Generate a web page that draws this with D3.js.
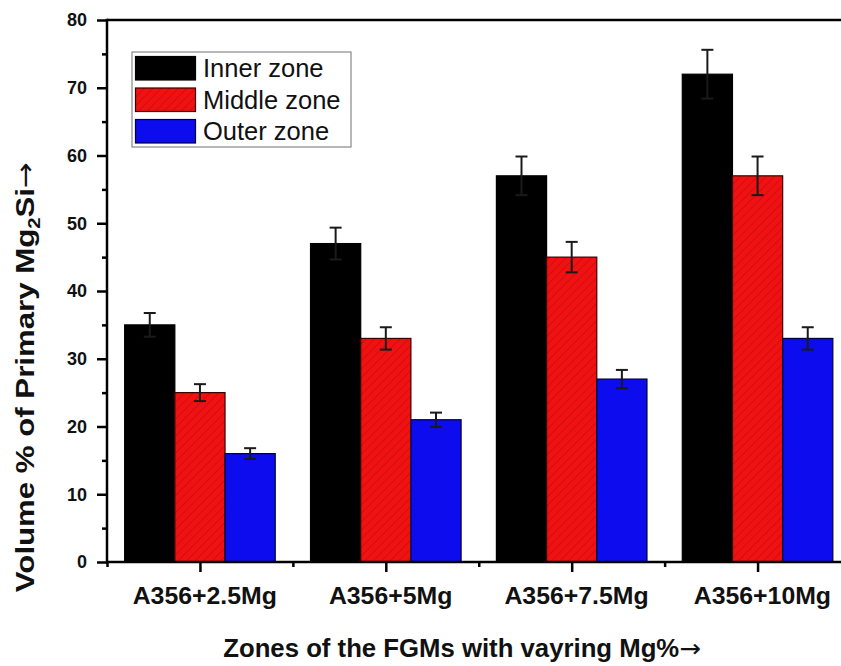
<!DOCTYPE html>
<html>
<head>
<meta charset="utf-8">
<script src="https://cdnjs.cloudflare.com/ajax/libs/d3/7.8.5/d3.min.js"></script>
<style>
  html, body { margin: 0; padding: 0; background: #fff; }
  svg { display: block; }
  text { font-family: Arial, "Liberation Sans", sans-serif; fill: #111; }
  .arrow { font-family: "DejaVu Sans", sans-serif; font-weight: normal; }
</style>
</head>
<body>
<svg id="chart" width="841" height="666"></svg>
<script>
// Alloy compositions along the x axis
const categories = ["A356+2.5Mg", "A356+5Mg", "A356+7.5Mg", "A356+10Mg"];
// Zones of the FGM casting
const seriesNames = ["Inner zone", "Middle zone", "Outer zone"];
// Volume % of primary Mg2Si per zone
const innerValues  = [35, 47, 57, 72];
const middleValues = [25, 33, 45, 57];
const outerValues  = [16, 21, 27, 33];
// Standard deviation per bar
const innerErrors  = [1.75, 2.35, 2.85, 3.6];
const middleErrors = [1.25, 1.65, 2.25, 2.85];
const outerErrors  = [0.8, 1.05, 1.35, 1.65];
// Y axis ticks
const yMajorTicks = [0, 10, 20, 30, 40, 50, 60, 70, 80];
const yMinorTicks = [5, 15, 25, 35, 45, 55, 65, 75];

const series = [
  { name: seriesNames[0], values: innerValues,  errors: innerErrors,  fill: "#000000", stroke: "#000000", hatch: false },
  { name: seriesNames[1], values: middleValues, errors: middleErrors, fill: "#f01212", stroke: "#3a0000", hatch: true },
  { name: seriesNames[2], values: outerValues,  errors: outerErrors,  fill: "#0c0cee", stroke: "#00003a", hatch: false }
];

const svg = d3.select("#chart");

const plot = { left: 107, top: 20, bottom: 562, right: 850.5 };

// Category positions: index 1..4 centred, frame spans 0.5..4.5
const x = d3.scaleLinear().domain([0.5, categories.length + 0.5]).range([plot.left, plot.right]);
const y = d3.scaleLinear().domain([0, 80]).range([plot.bottom, plot.top]);

const step = x(2) - x(1);
const sub = d3.scaleBand().domain(seriesNames).range([-step * 0.405, step * 0.405]).padding(0);

// Hatch pattern for the middle zone
const defs = svg.append("defs");
const pat = defs.append("pattern")
  .attr("id", "hatch")
  .attr("patternUnits", "userSpaceOnUse")
  .attr("width", 6).attr("height", 6)
  .attr("patternTransform", "rotate(45)");
pat.append("rect").attr("width", 6).attr("height", 6).attr("fill", "#f01212");
pat.append("line").attr("x1", 0).attr("y1", 0).attr("x2", 0).attr("y2", 6)
  .attr("stroke", "#c40a0a").attr("stroke-width", 1.3);

// Bars
series.forEach(s => {
  svg.append("g").selectAll("rect")
    .data(s.values)
    .join("rect")
    .attr("x", (d, i) => x(i + 1) + sub(s.name))
    .attr("y", d => y(d))
    .attr("width", sub.bandwidth())
    .attr("height", d => y(0) - y(d))
    .attr("fill", s.hatch ? "url(#hatch)" : s.fill)
    .attr("stroke", s.stroke)
    .attr("stroke-width", 1.2);
});

// Error bars (symmetric, with caps)
series.forEach(s => {
  const g = svg.append("g").attr("stroke", "#1a1a1a").attr("stroke-width", 2).attr("fill", "none");
  s.values.forEach((v, i) => {
    const cx = x(i + 1) + sub(s.name) + sub.bandwidth() / 2;
    const hi = y(v + s.errors[i]);
    const lo = y(v - s.errors[i]);
    g.append("line").attr("x1", cx).attr("x2", cx).attr("y1", hi).attr("y2", lo);
    g.append("line").attr("x1", cx - 6).attr("x2", cx + 6).attr("y1", hi).attr("y2", hi);
    g.append("line").attr("x1", cx - 6).attr("x2", cx + 6).attr("y1", lo).attr("y2", lo);
  });
});

// Frame: top edge and right edge
svg.append("line")
  .attr("x1", plot.left).attr("x2", plot.right)
  .attr("y1", plot.top).attr("y2", plot.top)
  .attr("stroke", "#000").attr("stroke-width", 2.5);
svg.append("line")
  .attr("x1", plot.right).attr("x2", plot.right)
  .attr("y1", plot.top).attr("y2", plot.bottom)
  .attr("stroke", "#000").attr("stroke-width", 2.5);

// Y axis
const yAxis = d3.axisLeft(y).tickValues(yMajorTicks).tickSize(10).tickPadding(10).tickFormat(d3.format("d"));
const gy = svg.append("g").attr("transform", `translate(${plot.left},0)`).call(yAxis);
gy.select(".domain").remove();
gy.selectAll(".tick line").attr("stroke", "#000").attr("stroke-width", 2.5);
gy.selectAll(".tick text").attr("font-size", 18).attr("font-weight", "bold").attr("fill", "#111");
const yMinor = d3.axisLeft(y).tickValues(yMinorTicks).tickSize(5).tickFormat("");
const gym = svg.append("g").attr("transform", `translate(${plot.left},0)`).call(yMinor);
gym.select(".domain").remove();
gym.selectAll(".tick line").attr("stroke", "#000").attr("stroke-width", 2.5);
svg.append("line")
  .attr("x1", plot.left).attr("x2", plot.left)
  .attr("y1", plot.top - 1.25).attr("y2", plot.bottom + 1.25)
  .attr("stroke", "#000").attr("stroke-width", 2.5);

// X axis: major ticks at categories, minor ticks between them
const catIdx = d3.range(1, categories.length + 1);
const xAxis = d3.axisBottom(x).tickValues(catIdx).tickSize(10).tickPadding(16)
  .tickFormat(i => categories[i - 1]);
const gx = svg.append("g").attr("transform", `translate(0,${plot.bottom})`).call(xAxis);
gx.select(".domain").remove();
gx.selectAll(".tick line").attr("stroke", "#000").attr("stroke-width", 2.5);
gx.selectAll(".tick text").attr("font-size", 23).attr("font-weight", "bold").attr("fill", "#111")
  .attr("dx", 4).attr("transform", "scale(1.08,1)");
const xMinor = d3.axisBottom(x).tickValues(d3.range(0.5, categories.length + 1, 1)).tickSize(5).tickFormat("");
const gxm = svg.append("g").attr("transform", `translate(0,${plot.bottom})`).call(xMinor);
gxm.select(".domain").remove();
gxm.selectAll(".tick line").attr("stroke", "#000").attr("stroke-width", 2.5);
svg.append("line")
  .attr("x1", plot.left).attr("x2", plot.right)
  .attr("y1", plot.bottom).attr("y2", plot.bottom)
  .attr("stroke", "#000").attr("stroke-width", 2.5);

// Axis titles
const xt = svg.append("text")
  .attr("transform", "translate(462,657) scale(1.03,1)")
  .attr("text-anchor", "middle")
  .attr("font-size", 25).attr("font-weight", "bold");
xt.append("tspan").text("Zones of the FGMs with vayring Mg%");
xt.append("tspan").attr("class", "arrow").text("\u2192");

const yt = svg.append("text")
  .attr("transform", "translate(34,377) rotate(-90) scale(1.2,1)")
  .attr("text-anchor", "middle")
  .attr("font-size", 26).attr("font-weight", "bold");
yt.append("tspan").text("Volume % of Primary Mg");
yt.append("tspan").attr("font-size", 17).attr("dy", 6).text("2");
yt.append("tspan").attr("dy", -6).text("Si");
yt.append("tspan").attr("class", "arrow").text("\u2192");

// Legend
const legend = svg.append("g").attr("transform", "translate(132,52)");
legend.append("rect")
  .attr("width", 219).attr("height", 95)
  .attr("fill", "#fff").attr("stroke", "#888").attr("stroke-width", 1.2);
series.forEach((s, i) => {
  const row = legend.append("g").attr("transform", `translate(3.5,${4.5 + i * 31.5})`);
  row.append("rect")
    .attr("width", 60).attr("height", 23.5)
    .attr("fill", s.hatch ? "url(#hatch)" : s.fill)
    .attr("stroke", s.stroke).attr("stroke-width", 1.2);
  row.append("text")
    .attr("x", 67.5).attr("y", 20.5)
    .attr("font-size", 25.5)
    .text(s.name);
});
</script>
</body>
</html>
